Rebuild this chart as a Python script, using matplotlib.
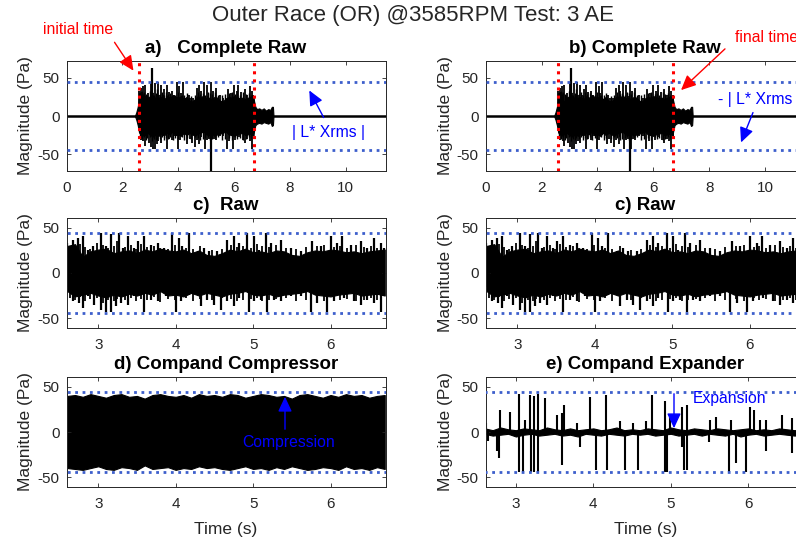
import matplotlib
matplotlib.use('Agg')
import matplotlib.pyplot as plt
from matplotlib.patches import FancyArrowPatch

W, H = 796, 542
plt.rcParams['font.family'] = ['Liberation Sans', 'DejaVu Sans']
plt.rcParams['axes.unicode_minus'] = False

main_title = 'Outer Race (OR) @3585RPM Test: 3 AE'
panel_titles = ['a)   Complete Raw', 'b) Complete Raw', 'c)  Raw', 'c) Raw',
                'd) Compand Compressor', 'e) Compand Expander']
threshold = 44
t_init, t_final = 2.6, 6.7
full_end = 11.42

# ---- raw signal (segment between initial and final time): spike peaks
raw_up_t = [2.59, 2.669, 2.733, 2.798, 2.862, 2.927, 3.034, 3.099, 3.163, 3.271, 3.314, 3.378,
            3.465, 3.508, 3.594, 3.680, 3.766, 3.852, 3.959, 4.045, 4.088, 4.174, 4.282, 4.368,
            4.432, 4.540, 4.669, 4.755, 4.819, 4.927, 5.013, 5.077, 5.163, 5.228, 5.357, 5.486,
            5.615, 5.766, 5.873, 6.002, 6.088, 6.153, 6.260, 6.389, 6.475, 6.561, 6.647, 6.690]
raw_up_v = [33, 37, 39, 41, 26, 30, 44, 30, 43, 44, 28, 41,
            28, 35, 41, 31, 33, 28, 44, 39, 30, 44, 24, 28,
            24, 24, 37, 41, 33, 44, 41, 26, 44, 33, 37, 28,
            24, 35, 30, 41, 33, 41, 31, 35, 28, 39, 33, 28]
raw_dn_t = [2.604, 2.669, 2.755, 2.798, 2.862, 2.948, 3.034, 3.099, 3.163, 3.228, 3.292, 3.378,
            3.465, 3.594, 3.680, 3.766, 3.873, 4.002, 4.067, 4.174, 4.325, 4.411, 4.497, 4.583,
            4.669, 4.755, 4.819, 4.948, 5.013, 5.099, 5.185, 5.271, 5.357, 5.486, 5.615, 5.744,
            5.830, 5.959, 6.045, 6.174, 6.303, 6.389, 6.475, 6.561, 6.647, 6.690]
raw_dn_v = [-15, -31, -33, -39, -26, -35, -41, -43, -43, -37, -33, -35,
            -26, -43, -30, -31, -26, -43, -31, -24, -37, -30, -35, -41,
            -31, -37, -28, -43, -31, -30, -43, -30, -31, -26, -26, -43,
            -33, -43, -31, -28, -31, -35, -30, -33, -43, -26]
# medium spikes between the large ones (estimated)
raw_mid_t = [2.63, 2.70, 2.76, 2.83, 2.89, 2.98, 3.06, 3.13, 3.20, 3.24, 3.34, 3.42,
             3.49, 3.55, 3.63, 3.72, 3.80, 3.90, 3.99, 4.13, 4.22, 4.32, 4.47, 4.60,
             4.71, 4.79, 4.87, 4.97, 5.05, 5.12, 5.20, 5.30, 5.42, 5.55, 5.68, 5.82,
             5.92, 6.05, 6.12, 6.21, 6.33, 6.43, 6.52, 6.60]
raw_mid_hi = [30, 28, 32, 29, 27, 33, 31, 28, 30, 35, 29, 31,
              27, 32, 29, 30, 28, 27, 31, 28, 27, 30, 26, 27,
              31, 29, 30, 28, 32, 30, 29, 31, 28, 27, 29, 30,
              31, 29, 30, 28, 31, 29, 30, 28]
raw_mid_lo = [-28, -30, -27, -31, -29, -28, -33, -30, -31, -29, -30, -28,
              -31, -29, -30, -27, -32, -29, -30, -28, -31, -29, -30, -28,
              -29, -31, -30, -29, -28, -31, -30, -29, -28, -31, -30, -29,
              -31, -28, -30, -29, -31, -30, -28, -30]
# dense body of the raw signal (envelope without the isolated spikes)
raw_core_t = [2.60, 2.70, 2.80, 2.90, 3.00, 3.10, 3.20, 3.30, 3.40, 3.50, 3.60, 3.70, 3.80, 3.90,
              4.00, 4.10, 4.20, 4.30, 4.40, 4.50, 4.60, 4.70, 4.80, 4.90, 5.00, 5.10, 5.20, 5.30,
              5.40, 5.50, 5.60, 5.70, 5.80, 5.90, 6.00, 6.10, 6.20, 6.30, 6.40, 6.50, 6.60, 6.70]
raw_core_hi = [30, 32, 18, 24, 26, 27, 22, 24, 25, 22, 26, 24, 27, 25,
               24, 26, 22, 25, 20, 19, 22, 26, 24, 27, 23, 24, 22, 25,
               24, 20, 19, 23, 25, 24, 26, 25, 23, 24, 22, 24, 25, 26]
raw_core_lo = [-20, -26, -24, -22, -25, -27, -24, -26, -23, -25, -22, -24, -20, -25,
               -24, -26, -22, -25, -22, -24, -26, -23, -22, -20, -24, -25, -23, -26,
               -24, -23, -22, -20, -24, -25, -26, -24, -23, -22, -25, -24, -23, -25]

# ---- complete record extras
full_ramp_t = [2.45, 2.50, 2.55, 2.60]
full_ramp_hi = [0, 5, 12, 22]
full_ramp_lo = [0, -5, -12, -22]
full_tail_t = [6.70, 6.76, 6.82, 6.90, 6.98, 7.06, 7.14, 7.22, 7.30, 7.35, 7.39, 7.41]
full_tail_hi = [22, 12, 9, 10, 8, 10, 7, 9, 8, 12, 12, 0]
full_tail_lo = [-22, -12, -10, -9, -10, -8, -9, -10, -8, -13, -12, 0]
full_out_t = [3.06, 5.16]
full_out_v = [63, -80]

# ---- compand compressor envelope
comp_t = raw_core_t
comp_hi = [40, 41, 39, 42, 40, 38, 41, 42, 39, 40, 37, 41, 42, 40,
           39, 41, 38, 42, 40, 41, 39, 42, 41, 38, 40, 42, 41, 39,
           40, 37, 41, 42, 40, 38, 41, 39, 42, 40, 41, 38, 40, 41]
comp_lo = [-40, -41, -42, -40, -38, -41, -42, -39, -40, -42, -37, -41, -40, -39,
           -42, -40, -41, -38, -40, -39, -41, -42, -40, -38, -41, -40, -42, -39,
           -41, -38, -40, -42, -41, -39, -40, -42, -38, -41, -40, -42, -39, -41]

# ---- compand expander spikes
exp_up_t = [2.613, 2.794, 2.923, 3.043, 3.116, 3.181, 3.237, 3.280, 3.374, 3.525, 3.589, 3.624,
            3.783, 3.955, 4.170, 4.342, 4.514, 4.686, 4.759, 4.923, 4.987, 5.151, 5.211, 5.503,
            5.589, 5.774, 6.019, 6.075, 6.148, 6.234, 6.441, 6.570]
exp_up_v = [10, 24, 22, 42, 13, 41, 40, 42, 38, 19, 21, 30,
            10, 39, 41, 12, 10, 12, 41, 34, 17, 28, 30, 13,
            17, 13, 28, 24, 13, 13, 19, 15]
exp_dn_t = [2.640, 2.751, 2.781, 3.043, 3.095, 3.189, 3.237, 3.280, 3.589, 3.826, 4.041, 4.178,
            4.406, 4.578, 4.923, 4.957, 5.151, 5.168, 5.211, 5.495, 5.753, 5.839, 5.976, 6.234,
            6.570]
exp_dn_v = [-10, -21, -29, -44, -44, -44, -44, -44, -37, -17, -42, -42,
            -42, -42, -44, -44, -17, -42, -42, -11, -44, -34, -44, -21,
            -23]
exp_base_t = raw_core_t
exp_base_hi = [4, 2, 5, 3, 2, 4, 3, 2, 5, 3, 2, 4, 2, 3,
               4, 2, 3, 5, 2, 3, 2, 4, 3, 2, 5, 3, 2, 4,
               3, 2, 4, 3, 2, 3, 4, 2, 3, 2, 4, 3, 2, 3]
exp_base_lo = [-2, -4, -3, -2, -5, -3, -2, -4, -3, -2, -4, -3, -5, -2,
               -3, -4, -2, -3, -4, -2, -3, -2, -4, -3, -2, -4, -3, -2,
               -4, -2, -3, -4, -2, -5, -3, -2, -4, -3, -2, -3, -4, -2]

BLUE_LINE = '#3d5fcc'
DARK = '#262626'
TICK_FS = 11
LABEL_FS = 12.5
TITLE_FS = 13.5
NOTE_FS = 11.3


def make_ax(x0, y0):
    ax = fig.add_axes([x0 / W, 1 - (y0 + 110) / H, 319 / W, 110 / H])
    ax.tick_params(direction='in', top=True, right=True, length=3, width=0.6,
                   colors=DARK, labelsize=TICK_FS)
    ax.tick_params(axis='x', pad=7)
    ax.tick_params(axis='y', pad=5)
    for s in ax.spines.values():
        s.set_color(DARK)
        s.set_linewidth(0.7)
    ax.set_ylabel('Magnitude (Pa)', fontsize=LABEL_FS, color=DARK, labelpad=3)
    return ax


def draw_raw(ax, lw_v):
    ax.fill_between(raw_core_t, raw_core_lo, raw_core_hi, color='k', lw=0.8)
    ax.vlines(raw_mid_t, raw_mid_lo, raw_mid_hi, color='k', lw=lw_v * 0.8)
    ax.vlines(raw_up_t, 0, raw_up_v, color='k', lw=lw_v)
    ax.vlines(raw_dn_t, raw_dn_v, 0, color='k', lw=lw_v)


def hlines(ax, x0, x1):
    ax.plot([x0, x1], [threshold, threshold], ls=':', color=BLUE_LINE, lw=2.0, zorder=5)
    ax.plot([x0, x1], [-threshold, -threshold], ls=':', color=BLUE_LINE, lw=2.0, zorder=5)


fig = plt.figure(figsize=(W / 100, H / 100), dpi=100)

# ---------- complete raw panels
for i, x0 in enumerate([66.5, 485.7]):
    ax = make_ax(x0, 61)
    ax.plot([0, full_ramp_t[0]], [0, 0], color='k', lw=1.8)
    ax.plot([full_tail_t[-1], full_end], [0, 0], color='k', lw=1.8)
    ax.fill_between(full_ramp_t, full_ramp_lo, full_ramp_hi, color='k', lw=0.8)
    ax.fill_between(full_tail_t, full_tail_lo, full_tail_hi, color='k', lw=0.8)
    draw_raw(ax, 1.3)
    ax.vlines(full_out_t, 0, full_out_v, color='k', lw=1.6)
    hlines(ax, 0, full_end)
    for tv in (t_init, t_final):
        ax.axvline(tv, color='red', ls=':', lw=2.2, zorder=6)
    ax.set_xlim(0, full_end)
    ax.set_ylim(-72, 72)
    ax.set_xticks([0, 2, 4, 6, 8, 10])
    ax.set_yticks([-50, 0, 50])
    ax.set_title(panel_titles[i], fontsize=TITLE_FS, fontweight='bold', pad=5.5)

# ---------- raw zoom panels
for i, x0 in enumerate([66.5, 485.7]):
    ax = make_ax(x0, 218)
    draw_raw(ax, 1.6)
    hlines(ax, 2.5, 6.8)
    ax.set_xlim(2.59, 6.71)
    ax.set_ylim(-61, 61)
    ax.set_xticks([3, 4, 5, 6])
    ax.set_yticks([-50, 0, 50])
    ax.set_title(panel_titles[2 + i], fontsize=TITLE_FS, fontweight='bold', pad=5.5)

# ---------- compressor
ax_d = make_ax(66.5, 377)
ax_d.fill_between(comp_t, comp_lo, comp_hi, color='k', lw=0.8)
hlines(ax_d, 2.5, 6.8)
ax_d.set_xlim(2.59, 6.71)
ax_d.set_ylim(-61, 61)
ax_d.set_xticks([3, 4, 5, 6])
ax_d.set_yticks([-50, 0, 50])
ax_d.set_title(panel_titles[4], fontsize=TITLE_FS, fontweight='bold', pad=5.5)
ax_d.set_xlabel('Time (s)', fontsize=LABEL_FS, color=DARK, labelpad=8)

# ---------- expander
ax_e = make_ax(485.7, 377)
ax_e.fill_between(exp_base_t, exp_base_lo, exp_base_hi, color='k', lw=0.8)
ax_e.vlines(exp_up_t, 0, exp_up_v, color='k', lw=1.5)
ax_e.vlines(exp_dn_t, exp_dn_v, 0, color='k', lw=1.5)
hlines(ax_e, 2.5, 6.8)
ax_e.set_xlim(2.61, 6.73)
ax_e.set_ylim(-61, 61)
ax_e.set_xticks([3, 4, 5, 6])
ax_e.set_yticks([-50, 0, 50])
ax_e.set_title(panel_titles[5], fontsize=TITLE_FS, fontweight='bold', pad=5.5)
ax_e.set_xlabel('Time (s)', fontsize=LABEL_FS, color=DARK, labelpad=8)


# ---------- title and annotations (image pixel coordinates, origin top-left)
def fp(x, y):
    return (x, H - y)


fig.text(413 / W, 1 - 15 / H, main_title, ha='center', va='center', fontsize=16, color=DARK)


def arrow(tail, head, color, lw=1.0):
    fig.add_artist(FancyArrowPatch(
        fp(*tail), fp(*head), transform=None,
        arrowstyle='-|>,head_length=0.6,head_width=0.28',
        mutation_scale=15, color=color, lw=lw))


fig.text(78 / W, 1 - 30 / H, 'initial time', color='red', ha='center', va='center', fontsize=NOTE_FS)
arrow((113, 40), (135, 73), 'red')
fig.text(735 / W, 1 - 38 / H, 'final time', color='red', ha='left', va='center', fontsize=NOTE_FS)
arrow((727, 47), (679, 92), 'red')
fig.text(329 / W, 1 - 133 / H, '| L* Xrms |', color='blue', ha='center', va='center', fontsize=NOTE_FS)
arrow((325, 120), (308, 88), 'blue')
fig.text(718 / W, 1 - 100 / H, '- | L* Xrms |', color='blue', ha='left', va='center', fontsize=NOTE_FS)
arrow((754, 110), (740, 145), 'blue')
fig.text(289 / W, 1 - 442 / H, 'Compression', color='blue', ha='center', va='center', fontsize=NOTE_FS)
arrow((285, 432), (285, 394), 'blue')
fig.text(730 / W, 1 - 399 / H, 'Expansion', color='blue', ha='center', va='center', fontsize=NOTE_FS)
arrow((674, 391), (674, 431), 'blue')

fig.savefig('out.png', dpi=100)
